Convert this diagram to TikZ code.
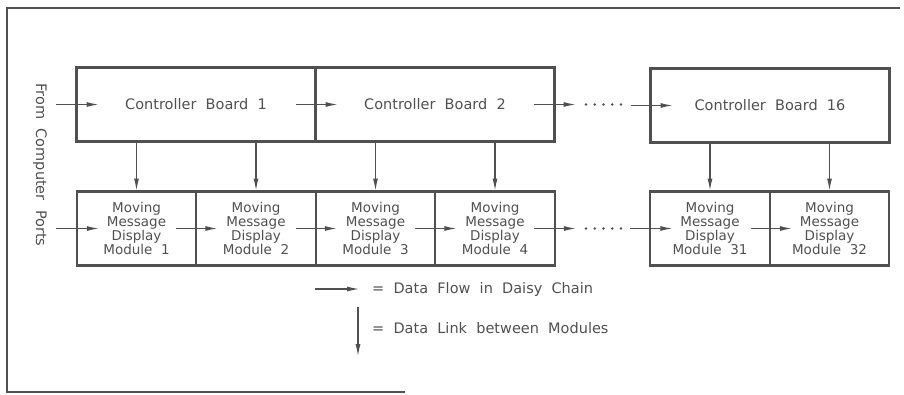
\documentclass[tikz,border=0pt]{standalone}
\usepackage{fontspec}
\setmainfont{DejaVu Sans}
\usetikzlibrary{positioning,calc}
\usetikzlibrary{arrows.meta}
\definecolor{InkGray}{RGB}{80,80,80}
\tikzset{
  board/.style={draw=InkGray,line width=2.2pt,minimum width=239pt,minimum height=74pt,
    inner sep=0pt,outer sep=0pt,text=InkGray,font=\fontsize{14.5}{16}\selectfont},
  module/.style={draw=InkGray,line width=2.2pt,minimum width=119.5pt,minimum height=74pt,
    inner sep=0pt,outer sep=0pt,align=center,text=InkGray,font=\fontsize{13.5}{14}\selectfont},
  flow/.style={draw=InkGray,line width=1.5pt,-{Latex[length=13pt,width=5pt]}},
  dot/.style={fill=InkGray,draw=none},
  legendtext/.style={anchor=west,text=InkGray,inner sep=0pt,font=\fontsize{14.5}{16}\selectfont},
}

\begin{document}
\begin{tikzpicture}[x=1pt,y=-1pt]
\useasboundingbox (0,0) rectangle (904,394);
% frame
\draw[InkGray,line width=1.4pt] (405,392) -- (7,392) -- (7,8) -- (900,8);
% controller boards
\node[board] (cb1) at (196,104.5) {Controller\ \ Board\ \ 1};
\node[board] (cb2) at (435,104.5) {Controller\ \ Board\ \ 2};
\node[board] (cb16) at (770,105.5) {Controller\ \ Board\ \ 16};
% display modules
\foreach \n/\x in {1/136.5,2/256,3/375.5,4/495,31/710,32/829.5}
  \node[module] (m\n) at (\x,228.5) {Moving\\Message\\Display\\Module\ \ \n};
% source label
\node[rotate=-90,text=InkGray,font=\fontsize{14.5}{16}\selectfont] (src) at (40,165) {From\ \ Computer\ \ Ports};
\coordinate (inb) at (56,104.5);
\coordinate (inm) at (56,228.5);
% daisy chain
\draw[flow] (inb) -- ([xshift=23pt]cb1.west);
\draw[flow] ([xshift=-20pt]cb1.east) -- ([xshift=23pt]cb2.west);
\draw[flow] ([xshift=-21pt]cb2.east) -- ([xshift=22pt]cb2.east);
\draw[flow] ([xshift=-20pt]cb16.west) -- ([xshift=23pt]cb16.west);
\draw[flow] (inm) -- ([xshift=23pt]m1.west);
\draw[flow] ([xshift=-20pt]m1.east) -- ([xshift=22pt]m2.west);
\draw[flow] ([xshift=-20pt]m2.east) -- ([xshift=22pt]m3.west);
\draw[flow] ([xshift=-20pt]m3.east) -- ([xshift=22pt]m4.west);
\draw[flow] ([xshift=-21pt]m4.east) -- ([xshift=22pt]m4.east);
\draw[flow] ([xshift=-20pt]m31.west) -- ([xshift=23pt]m31.west);
\draw[flow] ([xshift=-19pt]m31.east) -- ([xshift=23pt]m32.west);
\foreach \i in {0,...,4} {
  \fill[dot] (586+8.75*\i,104.5) circle (1.4pt);
  \fill[dot] (586+8.75*\i,228.5) circle (1.4pt);
}
% links between modules
\draw[flow] (cb1.south -| m1) -- (m1.north);
\draw[flow] (cb1.south -| m2) -- (m2.north);
\draw[flow] (cb2.south -| m3) -- (m3.north);
\draw[flow] (cb2.south -| m4) -- (m4.north);
\draw[flow] (cb16.south -| m31) -- (m31.north);
\draw[flow] (cb16.south -| m32) -- (m32.north);
% legend
\coordinate (lf1) at (315,289);
\coordinate (lf2) at (360,289);
\coordinate (ll1) at (358,307);
\coordinate (ll2) at (358,357);
\draw[flow] (lf1) -- (lf2);
\draw[flow] (ll1) -- (ll2);
\node[legendtext] (lft) at (372,289) {=\ \ Data\ \ Flow\ \ in\ \ Daisy\ \ Chain};
\node[legendtext] (llt) at (372,328) {=\ \ Data\ \ Link\ \ between\ \ Modules};
\end{tikzpicture}
\end{document}
